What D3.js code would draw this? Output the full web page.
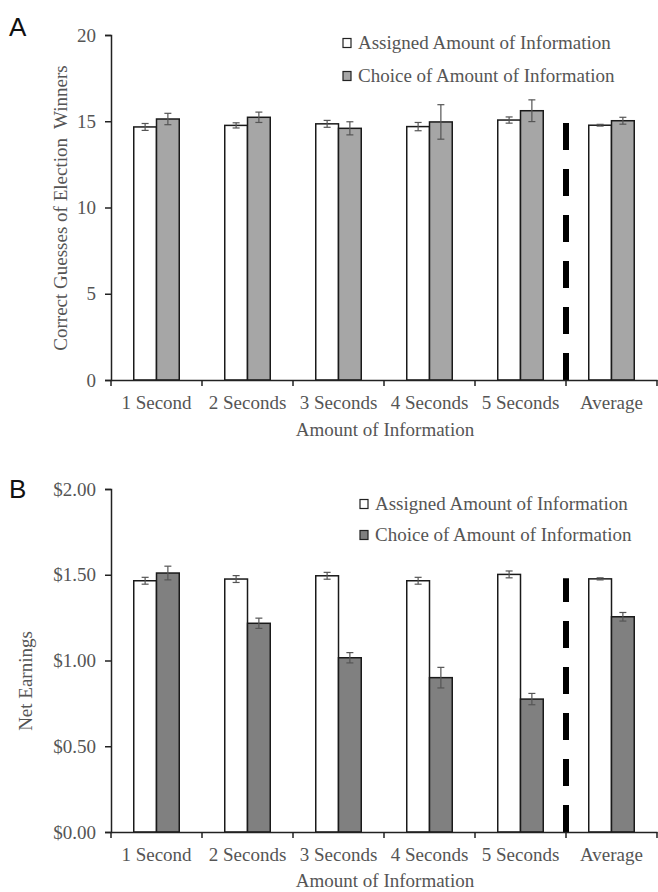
<!DOCTYPE html>
<html>
<head>
<meta charset="utf-8">
<script src="https://cdn.jsdelivr.net/npm/d3@7"></script>
<style>
  html, body { margin: 0; padding: 0; background: #fff; }
  svg { display: block; }
  text { font-family: "Liberation Serif", "Times New Roman", serif; }
</style>
</head>
<body>
<svg id="chart" width="658" height="892"></svg>
<script>
// ---------- data ----------
const categories = ["1 Second", "2 Seconds", "3 Seconds", "4 Seconds", "5 Seconds", "Average"];
const seriesNames = ["Assigned Amount of Information", "Choice of Amount of Information"];

// Panel A: correct guesses of election winners
const guessesAssigned = [14.67, 14.76, 14.85, 14.69, 15.07, 14.77];
const guessesAssignedErr = [0.2, 0.15, 0.2, 0.24, 0.18, 0.05];
const guessesChoice = [15.13, 15.23, 14.59, 14.96, 15.61, 15.03];
const guessesChoiceErr = [0.33, 0.3, 0.38, 1.0, 0.63, 0.2];
const guessesTicks = [0, 5, 10, 15, 20];

// Panel B: net earnings
const earningsAssigned = [1.465, 1.475, 1.494, 1.465, 1.502, 1.476];
const earningsAssignedErr = [0.02, 0.02, 0.02, 0.02, 0.02, 0.006];
const earningsChoice = [1.51, 1.217, 1.016, 0.90, 0.775, 1.255];
const earningsChoiceErr = [0.04, 0.03, 0.03, 0.06, 0.033, 0.025];
const earningsTicks = [0, 0.5, 1.0, 1.5, 2.0];

// ---------- drawing ----------
const svg = d3.select("#chart");
const textColor = "#555";
const FONT = 19;
const SERIF = "'Liberation Serif', 'Times New Roman', serif";

function panel(opts) {
  const g = svg.append("g");
  const x = d3.scaleBand().domain(categories).range([111, 657]).padding(0);
  const y = d3.scaleLinear().domain(opts.domain).range([opts.bottom, opts.top]);
  const bw = x.bandwidth() * 0.25;

  // bars
  const series = [
    { vals: opts.assigned, errs: opts.assignedErr, fill: "#ffffff", off: -1 },
    { vals: opts.choice, errs: opts.choiceErr, fill: opts.choiceFill, off: 0 }
  ];
  series.forEach(s => {
    g.selectAll(null).data(categories).enter().append("rect")
      .attr("x", d => x(d) + x.bandwidth() / 2 + s.off * bw)
      .attr("y", (d, i) => y(s.vals[i]))
      .attr("width", bw)
      .attr("height", (d, i) => y(0) - y(s.vals[i]))
      .attr("fill", s.fill)
      .attr("stroke", "#1a1a1a")
      .attr("stroke-width", 1.5);
  });
  // error bars
  series.forEach(s => {
    const cx = d => x(d) + x.bandwidth() / 2 + s.off * bw + bw / 2;
    const eg = g.selectAll(null).data(categories).enter().append("g")
      .attr("stroke", "#555").attr("stroke-width", 1.2);
    eg.append("line")
      .attr("x1", cx).attr("x2", cx)
      .attr("y1", (d, i) => y(s.vals[i] - s.errs[i]))
      .attr("y2", (d, i) => y(s.vals[i] + s.errs[i]));
    [1, -1].forEach(sign => {
      eg.append("line")
        .attr("x1", d => cx(d) - 3.5).attr("x2", d => cx(d) + 3.5)
        .attr("y1", (d, i) => y(s.vals[i] + sign * s.errs[i]))
        .attr("y2", (d, i) => y(s.vals[i] + sign * s.errs[i]));
    });
  });

  // dashed separator
  g.append("line")
    .attr("x1", x("Average")).attr("x2", x("Average"))
    .attr("y1", y(0)).attr("y2", y(opts.dashTop))
    .attr("stroke", "#000").attr("stroke-width", 6)
    .attr("stroke-dasharray", "27,19");

  // y axis
  const yAxis = d3.axisLeft(y).tickValues(opts.ticks).tickSize(6).tickPadding(9)
    .tickFormat(opts.fmt);
  const ya = g.append("g").attr("transform", "translate(111,0)").call(yAxis)
    .attr("font-family", SERIF);
  ya.select(".domain").attr("stroke", "#222").attr("stroke-width", 1.5);
  ya.selectAll(".tick line").attr("stroke", "#222").attr("stroke-width", 1.5);
  ya.selectAll(".tick text").attr("fill", textColor).style("font-size", FONT + "px")
    .style("font-family", SERIF);

  // x axis
  const xAxis = d3.axisBottom(x).tickSize(0).tickPadding(opts.catPad);
  const xa = g.append("g").attr("transform", `translate(0,${opts.bottom})`).call(xAxis)
    .attr("font-family", SERIF);
  xa.select(".domain").attr("stroke", "#222").attr("stroke-width", 1.5);
  xa.selectAll(".tick text").attr("fill", textColor).style("font-size", FONT + "px")
    .style("font-family", SERIF);
  // boundary ticks
  const bounds = categories.map(c => x(c)).concat([x.range()[1]]);
  g.selectAll(null).data(bounds).enter().append("line")
    .attr("x1", d => d).attr("x2", d => d)
    .attr("y1", opts.bottom).attr("y2", opts.bottom + 6)
    .attr("stroke", "#222").attr("stroke-width", 1.5);

  // axis titles
  g.append("text")
    .attr("x", 385).attr("y", opts.titleY)
    .attr("text-anchor", "middle").attr("fill", textColor)
    .style("font-size", FONT + "px").style("font-family", SERIF)
    .text("Amount of Information");
  g.append("text")
    .attr("transform", `translate(${opts.yLabelX},${opts.yLabelY}) rotate(-90)`)
    .attr("text-anchor", "middle").attr("fill", textColor)
    .attr("dy", "0.35em")
    .style("font-size", FONT + "px").style("font-family", SERIF)
    .style("white-space", "pre")
    .attr("xml:space", "preserve")
    .text(opts.yLabel);

  // legend
  const fills = ["#ffffff", opts.choiceFill];
  seriesNames.forEach((name, i) => {
    const cy = opts.legendY[i];
    g.append("rect")
      .attr("x", opts.legendX).attr("y", cy - 4.5)
      .attr("width", 8).attr("height", 9)
      .attr("fill", fills[i]).attr("stroke", "#222").attr("stroke-width", 1.2);
    g.append("text")
      .attr("x", opts.legendX + 15).attr("y", cy).attr("dy", "0.33em")
      .attr("fill", textColor).style("font-size", FONT + "px").style("font-family", SERIF)
      .text(name);
  });

  // panel letter
  svg.append("text")
    .attr("x", 9).attr("y", opts.letterY)
    .style("font-family", "'Liberation Sans', Arial, sans-serif")
    .style("font-size", "26px").attr("fill", "#111")
    .text(opts.letter);
}

panel({
  letter: "A", letterY: 36,
  domain: [0, 20], top: 35, bottom: 380,
  assigned: guessesAssigned, assignedErr: guessesAssignedErr,
  choice: guessesChoice, choiceErr: guessesChoiceErr,
  choiceFill: "#a6a6a6",
  ticks: guessesTicks, fmt: d3.format("d"),
  dashTop: 14.9,
  catPad: 16, titleY: 436,
  yLabel: "Correct Guesses of Election  Winners", yLabelX: 60, yLabelY: 208,
  legendX: 343, legendY: [43, 76]
});

panel({
  letter: "B", letterY: 498,
  domain: [0, 2], top: 489, bottom: 832,
  assigned: earningsAssigned, assignedErr: earningsAssignedErr,
  choice: earningsChoice, choiceErr: earningsChoiceErr,
  choiceFill: "#808080",
  ticks: earningsTicks, fmt: d => "$" + d3.format(".2f")(d),
  dashTop: 1.48,
  catPad: 16, titleY: 887,
  yLabel: "Net Earnings", yLabelX: 25, yLabelY: 681,
  legendX: 360, legendY: [504, 535]
});
</script>
</body>
</html>
